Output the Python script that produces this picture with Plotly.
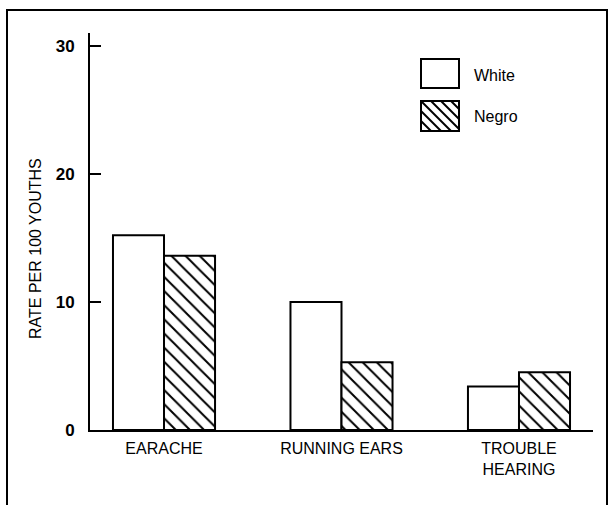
import plotly.graph_objects as go

categories = ["EARACHE", "RUNNING EARS", "TROUBLE<br>HEARING"]
white_rates = [15.2, 10.0, 3.4]
negro_rates = [13.6, 5.3, 4.5]
series_names = ["White", "Negro"]
y_ticks = [0, 10, 20, 30]

FONT = "Liberation Sans, Arial, sans-serif"

# plot area in pixels: x 90..593, y 33..430
W, H = 610, 505
ML, MR, MT, MB = 90, 17, 33, 75
pw = W - ML - MR
ph = H - MT - MB

def px_x(x):
    return (x - ML) / pw

def px_y(y):
    return (H - MB - y) / ph

fig = go.Figure()
fig.add_trace(go.Bar(
    x=categories, y=white_rates, name=series_names[0],
    marker=dict(color="white", line=dict(color="black", width=2)),
    showlegend=False,
))
fig.add_trace(go.Bar(
    x=categories, y=negro_rates, name=series_names[1],
    marker=dict(color="white", line=dict(color="black", width=2),
                pattern=dict(shape="\\", size=10, solidity=0.2, fgopacity=1,
                             fgcolor="black", bgcolor="white", fillmode="overlay")),
    showlegend=False,
))

shapes = []
# outer frame
shapes.append(dict(type="rect", xref="paper", yref="paper",
                   x0=px_x(7), x1=px_x(607), y0=px_y(515), y1=px_y(10),
                   line=dict(color="black", width=2), fillcolor="rgba(0,0,0,0)"))
# legend boxes
bx0, bx1 = 421, 459
wy0, wy1 = 59, 88
ny0, ny1 = 101, 131
shapes.append(dict(type="rect", xref="paper", yref="paper",
                   x0=px_x(bx0), x1=px_x(bx1), y0=px_y(wy1), y1=px_y(wy0),
                   line=dict(color="black", width=2), fillcolor="white"))
# hatch lines inside Negro legend box (direction "\")
step = 10
hw, hh = bx1 - bx0, ny1 - ny0
for k in range(-hh, hw + 1, step):
    xa, ya = bx0 + k, ny0
    xb, yb = bx0 + k + hh, ny1
    if xa < bx0:
        ya = ya + (bx0 - xa); xa = bx0
    if xb > bx1:
        yb = yb - (xb - bx1); xb = bx1
    if xb - xa < 1:
        continue
    shapes.append(dict(type="line", xref="paper", yref="paper",
                       x0=px_x(xa), y0=px_y(ya), x1=px_x(xb), y1=px_y(yb),
                       line=dict(color="black", width=2)))
shapes.append(dict(type="rect", xref="paper", yref="paper",
                   x0=px_x(bx0), x1=px_x(bx1), y0=px_y(ny1), y1=px_y(ny0),
                   line=dict(color="black", width=2), fillcolor="rgba(0,0,0,0)"))

annotations = [
    dict(text=series_names[0], xref="paper", yref="paper", x=px_x(472), y=px_y(75),
         xanchor="left", yanchor="middle", showarrow=False,
         font=dict(family=FONT, size=16, color="black")),
    dict(text=series_names[1], xref="paper", yref="paper", x=px_x(472), y=px_y(117),
         xanchor="left", yanchor="middle", showarrow=False,
         font=dict(family=FONT, size=16, color="black")),
    dict(text="RATE PER 100 YOUTHS", xref="paper", yref="paper", x=px_x(36), y=px_y(249),
         xanchor="center", yanchor="middle", showarrow=False, textangle=-90,
         font=dict(family=FONT, size=16, color="black")),
]

fig.update_layout(
    width=W, height=H,
    margin=dict(l=ML, r=MR, t=MT, b=MB, pad=0),
    paper_bgcolor="white", plot_bgcolor="white",
    barmode="group", bargap=0.425, bargroupgap=0,
    shapes=shapes, annotations=annotations,
    font=dict(family=FONT, color="black"),
)
fig.update_xaxes(
    range=[-0.417, 2.417], showline=True, linecolor="black", linewidth=2,
    ticks="", showgrid=False, zeroline=False,
    tickfont=dict(family=FONT, size=16, color="black"),
    ticklabelstandoff=3,
)
fig.update_yaxes(
    range=[0, 31], showline=True, linecolor="black", linewidth=2,
    ticks="inside", ticklen=11, tickwidth=2, tickcolor="black",
    tickvals=y_ticks, showgrid=False, zeroline=False,
    tickfont=dict(family=FONT, size=17, color="black", weight="bold"),
    ticklabelstandoff=10,
)

fig.write_html("out.html", config={"displayModeBar": False},
               post_script="document.body.style.margin='0';document.body.style.overflow='hidden';")
